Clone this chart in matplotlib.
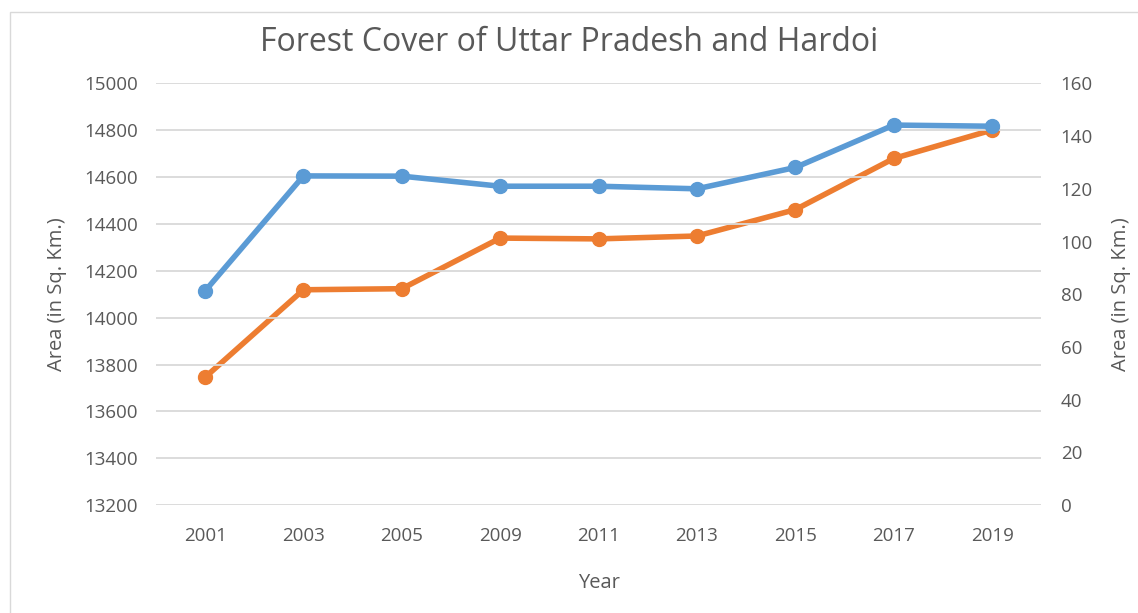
import numpy as np
import matplotlib.pyplot as plt
from matplotlib.patches import Rectangle

# data
years = ['2001', '2003', '2005', '2009', '2011', '2013', '2015', '2017', '2019']
up_cover = [14114, 14605, 14604, 14561, 14561, 14550, 14641, 14822, 14817]
hardoi_cover = [48.5, 81.7, 82.1, 101.3, 101.0, 102.1, 112.1, 131.5, 142.3]

plt.rcParams['font.family'] = ['Open Sans', 'DejaVu Sans']
txt = '#595959'
blue = '#5b9bd5'
orange = '#ed7d31'

fig = plt.figure(figsize=(11.38, 6.13), dpi=100)
ax = fig.add_axes([0.137, 0.176, 0.778, 0.688])
ax2 = ax.twinx()

x = np.arange(len(years))
ax.plot(x, up_cover, color=blue, lw=4, marker='o', ms=10, zorder=3)
ax2.plot(x, hardoi_cover, color=orange, lw=4, marker='o', ms=10, zorder=2)

ax.set_zorder(ax2.get_zorder() + 1)
ax.patch.set_visible(False)

ax.set_xlim(-0.5, 8.5)
ax.set_ylim(13200, 15000)
ax.set_yticks(np.arange(13200, 15001, 200))
ax2.set_ylim(0, 160)
ax2.set_yticks(np.arange(0, 161, 20))
ax.set_xticks(x)
ax.set_xticklabels(years)

ax.grid(axis='y', color='#d9d9d9', lw=1.3)
ax.set_axisbelow(True)
for a in (ax, ax2):
    for s in a.spines.values():
        s.set_visible(False)
    a.tick_params(length=0, labelsize=13.5, labelcolor=txt)
ax.tick_params(axis='y', pad=13)
ax2.tick_params(axis='y', pad=14)
ax.tick_params(axis='x', pad=16)

ax.set_xlabel('Year', fontsize=14.5, color=txt, labelpad=20)
ax.set_ylabel('Area (in Sq. Km.)', fontsize=14.5, color=txt, labelpad=12)
ax2.set_ylabel('Area (in Sq. Km.)', fontsize=14.5, color=txt, labelpad=13)
fig.suptitle('Forest Cover of Uttar Pradesh and Hardoi', fontsize=23, color=txt, y=0.958)

fig.patches.append(Rectangle((10 / 1138, -0.1), 1.2, 1 - 12 / 613 + 0.1,
                             transform=fig.transFigure, fill=False,
                             ec='#d9d9d9', lw=1))

fig.savefig('out.png', dpi=100)
